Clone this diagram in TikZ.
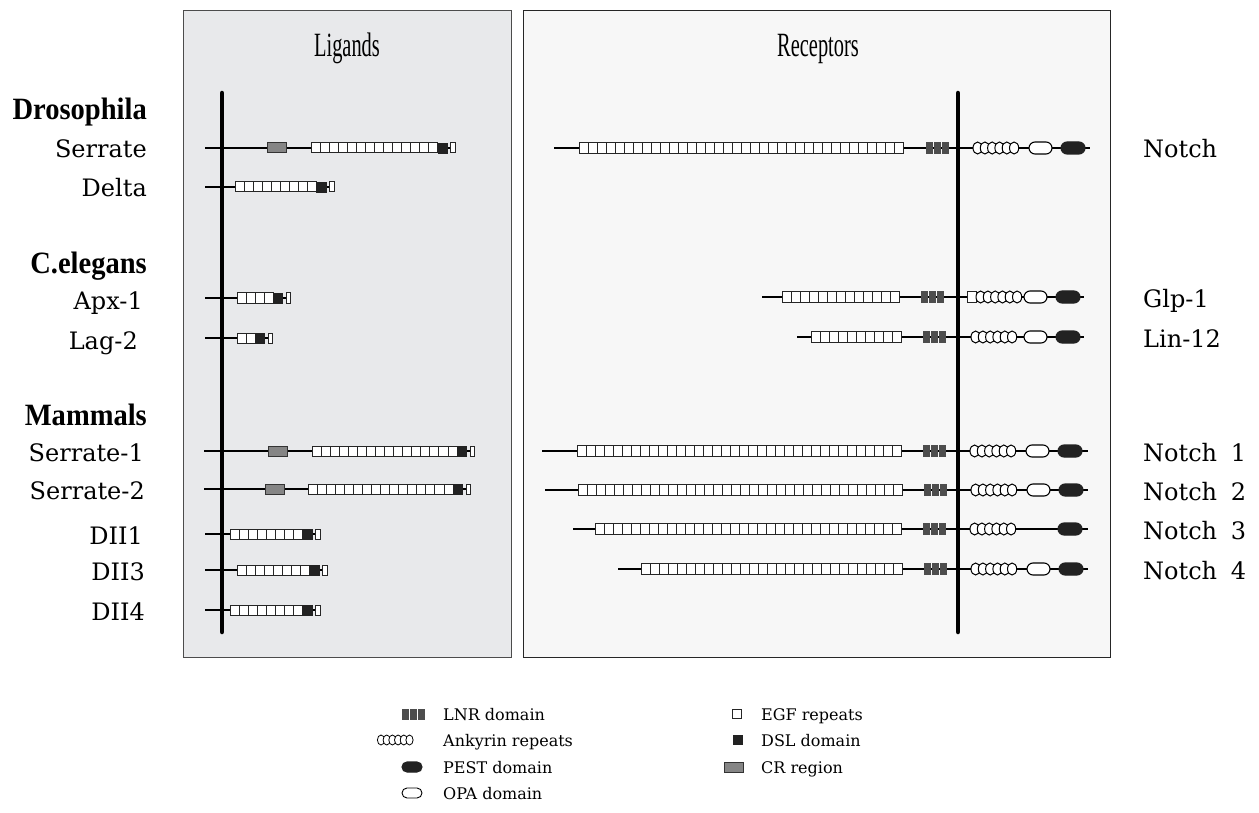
\documentclass[tikz,border=0pt]{standalone}
\usepackage{fontspec}
\setmainfont{DejaVu Serif}
\newfontfamily\headfont[FakeStretch=0.92]{Liberation Serif}
\newfontfamily\titlefont[FakeStretch=0.6]{Liberation Serif}
\definecolor{ligbg}{HTML}{E8E9EB}
\definecolor{recbg}{HTML}{F7F7F7}
\definecolor{crgray}{HTML}{858585}
\definecolor{lnrgray}{HTML}{4D4D4D}
\definecolor{dark}{HTML}{222222}
\begin{document}
\begin{tikzpicture}[x=1pt,y=-1pt,
  bb/.style={line width=2pt,draw=black},
  mem/.style={line width=4.5pt,line cap=round},
  egfbox/.style={draw=black!85,fill=white,line width=1pt},
  dslbox/.style={draw=dark,fill=dark,line width=0.8pt},
  crbox/.style={draw=black!80,fill=crgray,line width=1pt},
  lnrbox/.style={draw=lnrgray,fill=lnrgray,line width=0.5pt},
  ankyr/.style={draw=black,fill=white,line width=1pt},
  opa/.style={draw=black,fill=white,line width=1.1pt,rounded corners=6pt},
  pest/.style={draw=dark,fill=dark,line width=1.1pt,rounded corners=6pt},
  lab/.style={inner sep=0pt,font=\fontsize{24}{28}\selectfont},
  head/.style={inner sep=0pt,font=\headfont\bfseries\fontsize{31}{34}\selectfont},
  ttl/.style={inner sep=0pt,font=\titlefont\fontsize{34}{38}\selectfont},
  leg/.style={inner sep=0pt,anchor=base west,font=\fontsize{16}{19}\selectfont}]
\useasboundingbox (0,0) rectangle (1259,813);
\fill[white] (0,0) rectangle (1259,813);
% panels
\draw[fill=ligbg,draw=black!70,line width=1pt] (183,11) rectangle (511,657);
\draw[fill=recbg,draw=black!85,line width=1pt] (523,11) rectangle (1110,657);
\node[ttl,anchor=base] (tlig) at (347,57) {Ligands};
\node[ttl,anchor=base] (trec) at (818,57) {Receptors};
% ligands
\foreach \yy/\st/\eg/\nn/\crx in {148/205/311/14/267, 187/205/235/9/0, 298/205/237/4/0, 338/205/237/2/0, 451/204/312/16/268, 489/204/308/16/265, 534/205/230/8/0, 570/205/237/8/0, 610/205/230/8/0}{
  \pgfmathsetmacro\dx{\eg+\nn*9.07}
  \draw[bb] (\st,\yy) -- (\dx+13,\yy);
  \ifnum\crx>0 \draw[crbox] (\crx,\yy-5) rectangle ++(19,10); \fi
  \foreach \i in {1,...,\nn} \draw[egfbox] ({\eg+(\i-1)*9.07},\yy-5) rectangle ++(9.07,10);
  \draw[dslbox] (\dx,\yy-5) rectangle ++(9.5,10);
  \draw[egfbox] (\dx+13,\yy-5) rectangle ++(4.5,10);
}
% receptors
\foreach \yy/\st/\eg/\nn/\ln/\ak/\op/\pe/\en/\gl in {
148/554/579/36/926/973/1029/1061/1090/0,
297/762/782/13/921/976/1024/1056/1084/1,
337/797/811/10/923/971/1024/1056/1084/0,
451/542/577/36/923/970/1026/1058/1088/0,
490/545/578/36/924/971/1027/1059/1088/0,
529/573/595/34/923/970/0/1058/1088/0,
569/618/641/29/924/971/1027/1059/1088/0}{
  \draw[bb] (\st,\yy) -- (\en,\yy);
  \foreach \i in {1,...,\nn} \draw[egfbox] ({\eg+(\i-1)*9.0},\yy-5.5) rectangle ++(9,11);
  \foreach \i in {0,1,2} \draw[lnrbox] ({\ln+\i*8},\yy-5.5) rectangle ++(6.6,11);
  \ifnum\gl=1 \draw[egfbox] (\ak-9,\yy-5.5) rectangle ++(9,11); \fi
  \foreach \i in {0,...,5} \draw[ankyr] ({\ak+4.6+\i*7.3},\yy) ellipse [x radius=4.6, y radius=6];
  \ifnum\op>0 \draw[opa] (\op,\yy-6) rectangle ++(23,12); \fi
  \draw[pest] (\pe,\yy-6) rectangle ++(24,12);
}
% membranes
\draw[mem] (222,93) -- (222,632);
\draw[mem] (958,93) -- (958,632);
% left labels
\node[head,anchor=base east] (dros) at (147,120) {Drosophila};
\node[lab,anchor=base east] (ser) at (147,158) {Serrate};
\node[lab,anchor=base east] (del) at (147,197) {Delta};
\node[head,anchor=base east] (cel) at (147,274) {C.elegans};
\node[lab,anchor=base east] (apx) at (143,309) {Apx-1};
\node[lab,anchor=base east] (lag) at (138,349) {Lag-2};
\node[head,anchor=base east] (mam) at (147,425) {Mammals};
\node[lab,anchor=base east] (ser1) at (144,461) {Serrate-1};
\node[lab,anchor=base east] (ser2) at (145,499) {Serrate-2};
\node[lab,anchor=base east] (dll1) at (143,544) {DII1};
\node[lab,anchor=base east] (dll3) at (145,580) {DII3};
\node[lab,anchor=base east] (dll4) at (145,620) {DII4};
% right labels
\node[lab,anchor=base west] (notch) at (1143,158) {Notch};
\node[lab,anchor=base west] (glp) at (1143,307) {Glp-1};
\node[lab,anchor=base west] (lin) at (1143,347) {Lin-12};
\node[lab,anchor=base west] (n1) at (1143,461) {Notch\hspace{6pt} 1};
\node[lab,anchor=base west] (n2) at (1143,500) {Notch\hspace{6pt} 2};
\node[lab,anchor=base west] (n3) at (1143,539) {Notch\hspace{6pt} 3};
\node[lab,anchor=base west] (n4) at (1143,579) {Notch\hspace{6pt} 4};
% legend
\foreach \i in {0,1,2} \draw[lnrbox] ({402+\i*8},709) rectangle ++(6.6,10);
\node[leg] (llnr) at (443,720) {LNR domain};
\foreach \i in {0,...,5} \draw[ankyr,line width=0.8pt] ({381+\i*5.7},740) ellipse [x radius=3.6, y radius=5];
\node[leg] (lank) at (443,746) {Ankyrin repeats};
\draw[pest,rounded corners=5pt] (402,762) rectangle ++(20,10);
\node[leg] (lpest) at (443,773) {PEST domain};
\draw[opa,line width=0.9pt,rounded corners=5pt] (402,788) rectangle ++(20,10);
\node[leg] (lopa) at (443,799) {OPA domain};
\draw[egfbox] (732,709.5) rectangle ++(9,9);
\node[leg] (legf) at (761,720) {EGF repeats};
\draw[dslbox] (733,735.5) rectangle ++(9,9);
\node[leg] (ldsl) at (761,746) {DSL domain};
\draw[crbox] (724,762) rectangle ++(19,10);
\node[leg] (lcr) at (761,773) {CR region};
\end{tikzpicture}
\end{document}
